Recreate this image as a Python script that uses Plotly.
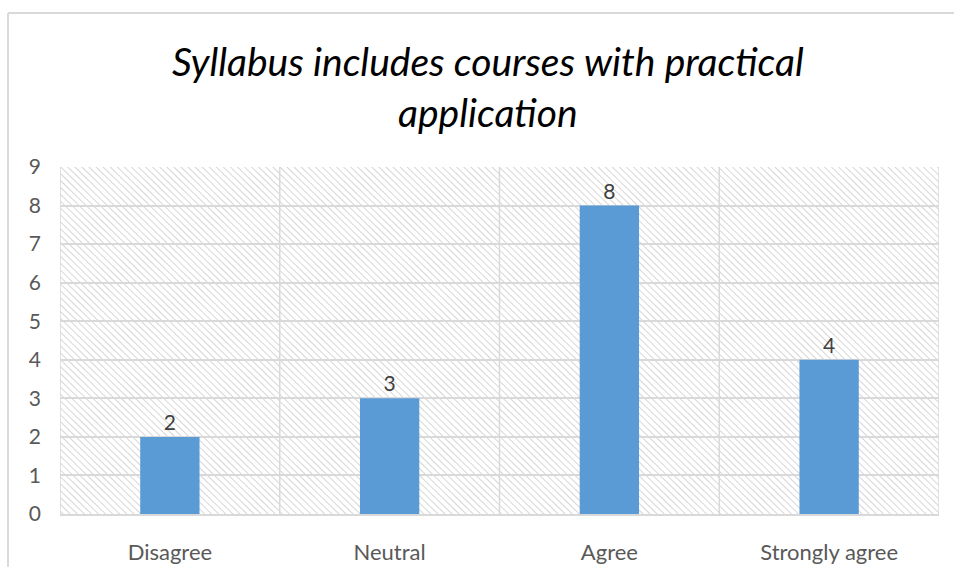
import base64

import plotly.graph_objects as go

# Survey responses
categories = ["Disagree", "Neutral", "Agree", "Strongly agree"]
counts = [2, 3, 8, 4]
title_lines = ["Syllabus includes courses with practical", "application"]

_BLUE = "#5b9bd5"
_GRID = "#d9d9d9"
_TICK = "#595959"
_FONT = "Lato, Open Sans, sans-serif"

W, H = 954, 577
L, R, T, B = 60, 15, 167, 54
PW, PH = W - L - R, H - T - B

# diagonal hatch used as the plot-area background
_hatch_svg = (
    f'<svg xmlns="http://www.w3.org/2000/svg" width="{PW}" height="{PH}">'
    '<defs><pattern id="h" width="5" height="5" patternUnits="userSpaceOnUse" '
    'patternTransform="rotate(-45)">'
    '<line x1="0" y1="0" x2="0" y2="5" stroke="#d6d6d6" stroke-width="2"/>'
    '</pattern></defs>'
    f'<rect width="{PW}" height="{PH}" fill="white"/>'
    f'<rect width="{PW}" height="{PH}" fill="url(#h)"/></svg>'
)
_hatch_uri = "data:image/svg+xml;base64," + base64.b64encode(_hatch_svg.encode()).decode()

fig = go.Figure()
fig.add_bar(x=categories, y=counts, width=0.27,
            marker={"color": _BLUE, "line": {"width": 0}},
            text=counts, textposition="outside", cliponaxis=False,
            textfont={"size": 21, "color": "#404040", "family": _FONT},
            showlegend=False)

fig.add_layout_image(source=_hatch_uri, xref="paper", yref="paper", x=0, y=1,
                     sizex=1, sizey=1, sizing="stretch", xanchor="left", yanchor="top",
                     layer="below")

# vertical separators between categories (and the plot edges)
for i in range(len(categories) + 1):
    fig.add_shape(type="line", xref="x", yref="paper", x0=i - 0.5, x1=i - 0.5, y0=0, y1=1,
                  line={"color": _GRID, "width": 1.5}, layer="below")

fig.add_annotation(text="<br>".join(title_lines), xref="paper", yref="paper",
                   x=(488 - L) / PW, y=(H - B - 84) / PH, xanchor="center", yanchor="middle",
                   showarrow=False, align="center",
                   font={"size": 39, "color": "#000000", "family": _FONT, "style": "italic"})

# outer chart frame: only the left and top edges show
fig.add_shape(type="line", xref="paper", yref="paper",
              x0=(8 - L) / PW, x1=(8 - L) / PW, y0=(H - B - 9) / PH, y1=-B / PH,
              line={"color": _GRID, "width": 2})
fig.add_shape(type="line", xref="paper", yref="paper",
              x0=(8 - L) / PW, x1=(W - L) / PW, y0=(H - B - 9) / PH, y1=(H - B - 9) / PH,
              line={"color": _GRID, "width": 2})

fig.update_layout(
    width=W, height=H,
    margin={"l": L, "r": R, "t": T, "b": B},
    paper_bgcolor="white", plot_bgcolor="white",
    font={"family": _FONT, "color": _TICK},
    xaxis={"type": "category", "range": [-0.5, 3.5], "showgrid": False, "zeroline": False,
           "showline": True, "linecolor": _GRID, "linewidth": 1.5, "ticks": "",
           "tickfont": {"size": 22, "color": _TICK}, "ticklabelstandoff": 18},
    yaxis={"range": [0, 9], "dtick": 1, "showgrid": True, "gridcolor": _GRID, "gridwidth": 1.5,
           "zeroline": False, "showline": False, "ticks": "",
           "tickfont": {"size": 21, "color": _TICK}, "ticklabelstandoff": 18},
)

# drop the default body margin so the figure fills the window exactly
fig.write_html("out.html", config={"displayModeBar": False},
               post_script="document.body.style.margin = '0';")
